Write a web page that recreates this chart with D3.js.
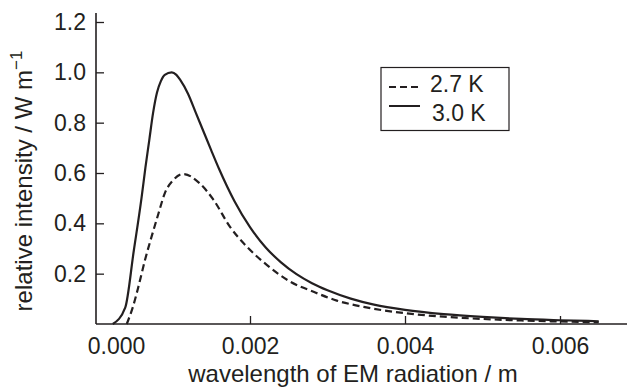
<!DOCTYPE html>
<html>
<head>
<meta charset="utf-8">
<script src="https://cdn.jsdelivr.net/npm/d3@7"></script>
<style>
  html, body { margin: 0; padding: 0; background: #fff; }
  svg { display: block; }
  text { font-family: "Liberation Sans", Arial, Helvetica, sans-serif; fill: #231f20; }
</style>
</head>
<body>
<svg id="chart" width="627" height="392"></svg>
<script>
// ---- data ----
const wavelength30 = [0.00023, 0.00039, 0.00050, 0.00060, 0.00065, 0.00070, 0.00075, 0.00080, 0.00085, 0.00090, 0.00099, 0.00105, 0.00110, 0.00120, 0.00130, 0.00140, 0.00150, 0.00160, 0.00180, 0.00200, 0.00220, 0.00240, 0.00260, 0.00280, 0.00300, 0.00330, 0.00360, 0.00400, 0.00450, 0.00500, 0.00550, 0.00600, 0.00650];
const intensity30  = [0, 0.065, 0.29, 0.50, 0.62, 0.73, 0.84, 0.92, 0.965, 0.99, 1.0, 0.99, 0.97, 0.915, 0.84, 0.765, 0.69, 0.617, 0.488, 0.385, 0.305, 0.245, 0.198, 0.162, 0.134, 0.101, 0.077, 0.056, 0.039, 0.028, 0.020, 0.015, 0.011];

const wavelength27 = [0.00041, 0.00049, 0.00056, 0.000645, 0.00073, 0.00082, 0.00090, 0.00101, 0.00114, 0.00134, 0.00153, 0.00174, 0.00196, 0.00222, 0.00252, 0.00282, 0.00312, 0.00350, 0.00400, 0.00450, 0.00500, 0.00550, 0.00600, 0.00650];
const intensity27  = [0, 0.069, 0.148, 0.254, 0.347, 0.44, 0.519, 0.572, 0.596, 0.562, 0.493, 0.387, 0.307, 0.234, 0.168, 0.128, 0.093, 0.066, 0.043, 0.029, 0.020, 0.014, 0.010, 0.007];

const xTicks = [0, 0.002, 0.004, 0.006];
const xTickLabels = ["0.000", "0.002", "0.004", "0.006"];
const yTicks = [0.2, 0.4, 0.6, 0.8, 1.0, 1.2];
const yTickLabels = ["0.2", "0.4", "0.6", "0.8", "1.0", "1.2"];
const seriesNames = ["2.7 K", "3.0 K"];

// ---- layout ----
const svg = d3.select("#chart");
const x = d3.scaleLinear().domain([0, 0.0068]).range([95, 622]);
const y = d3.scaleLinear().domain([0, 1.2]).range([324, 22]);
const ink = "#231f20";

// axes lines
svg.append("line").attr("x1", 96).attr("x2", 627).attr("y1", y(0)).attr("y2", y(0))
  .attr("stroke", ink).attr("stroke-width", 1.6);
svg.append("line").attr("x1", 96).attr("x2", 96).attr("y1", 13).attr("y2", y(0))
  .attr("stroke", ink).attr("stroke-width", 1.6);

// x axis ticks
const xAxis = d3.axisBottom(x).tickValues(xTicks)
  .tickFormat((d, i) => xTickLabels[i]).tickSizeInner(-8).tickSizeOuter(0).tickPadding(14);
const gx = svg.append("g").attr("transform", `translate(0,${y(0)})`).call(xAxis);
gx.select(".domain").remove();
gx.selectAll(".tick line").attr("stroke", ink).attr("stroke-width", 1.3)
  .filter(d => d === 0).remove();
gx.selectAll(".tick text").attr("font-size", 23).attr("fill", ink)
  .attr("font-family", "Liberation Sans, Arial, sans-serif")
  .attr("dx", d => d === 0 ? 21 : 0);

// y axis ticks
const yAxis = d3.axisLeft(y).tickValues(yTicks)
  .tickFormat((d, i) => yTickLabels[i]).tickSizeInner(-8).tickSizeOuter(0).tickPadding(10);
const gy = svg.append("g").attr("transform", "translate(96,0)").call(yAxis);
gy.select(".domain").remove();
gy.selectAll(".tick line").attr("stroke", ink).attr("stroke-width", 1.3);
gy.selectAll(".tick text").attr("font-size", 23).attr("fill", ink)
  .attr("font-family", "Liberation Sans, Arial, sans-serif");

// curves
const line = d3.line().x(d => x(d[0])).y(d => y(d[1])).curve(d3.curveMonotoneX);
const data30 = wavelength30.map((w, i) => [w, intensity30[i]]);
const data27 = wavelength27.map((w, i) => [w, intensity27[i]]);

svg.append("path").datum(data27).attr("d", line)
  .attr("fill", "none").attr("stroke", ink).attr("stroke-width", 2.2)
  .attr("stroke-dasharray", "7,4");
svg.append("path").datum(data30).attr("d", line)
  .attr("fill", "none").attr("stroke", ink).attr("stroke-width", 2.2);

// axis titles
svg.append("text").attr("x", 353).attr("y", 382).attr("text-anchor", "middle")
  .attr("font-size", 24).text("wavelength of EM radiation / m");

const yt = svg.append("text").attr("transform", "translate(32,181) rotate(-90)")
  .attr("text-anchor", "middle").attr("font-size", 24);
yt.append("tspan").text("relative intensity / W m");
yt.append("tspan").attr("font-size", 17).attr("dy", -10).text("\u22121");

// legend
const lg = svg.append("g");
lg.append("rect").attr("x", 381).attr("y", 67.5).attr("width", 128).attr("height", 63)
  .attr("fill", "#fff").attr("stroke", ink).attr("stroke-width", 1.2);
const legendItems = [
  { name: seriesNames[0], dash: "7,4", ly: 87, ty: 92, tx: 430 },
  { name: seriesNames[1], dash: null, ly: 106, ty: 121, tx: 432 }
];
legendItems.forEach(it => {
  lg.append("line").attr("x1", 389).attr("x2", 420).attr("y1", it.ly).attr("y2", it.ly)
    .attr("stroke", ink).attr("stroke-width", 2)
    .attr("stroke-dasharray", it.dash);
  lg.append("text").attr("x", it.tx).attr("y", it.ty).attr("font-size", 23).text(it.name);
});
</script>
</body>
</html>
